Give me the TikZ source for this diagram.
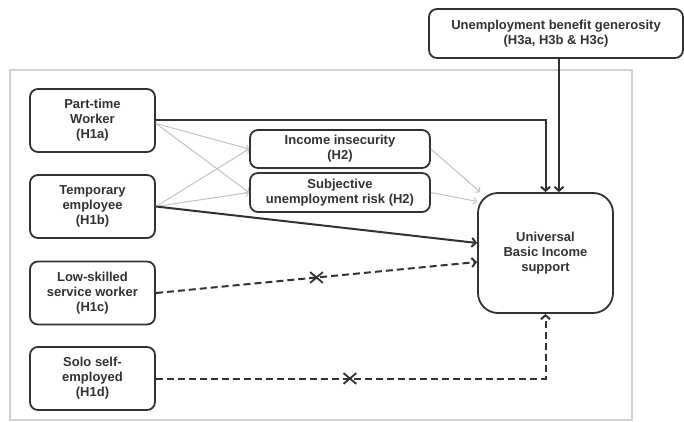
\documentclass[tikz,border=0pt]{standalone}
\usepackage{fontspec}
\setmainfont{Liberation Sans}
\usetikzlibrary{shapes.misc, arrows.meta}

\definecolor{inkgray}{RGB}{50,50,50}
\definecolor{softgray}{RGB}{195,195,195}
\definecolor{framegray}{RGB}{210,210,210}

\begin{document}
\begin{tikzpicture}[x=1pt, y=-1pt, >={Straight Barb[length=4pt, width=9pt]},
  font=\bfseries\fontsize{13}{15}\selectfont,
  box/.style={draw=inkgray, line width=1.8pt, rounded corners=8pt, align=center,
    text=inkgray, inner sep=0pt, minimum width=125pt, minimum height=63pt},
  midbox/.style={box, minimum width=180pt, minimum height=38pt},
  main/.style={->, draw=inkgray, line width=2pt},
  weak/.style={-{Straight Barb[length=3pt, width=7pt]}, draw=softgray, line width=1pt},
  null/.style={main, dash pattern=on 7pt off 4pt},
  nope/.style={cross out, solid, draw=inkgray, line width=1.8pt, minimum width=11pt,
    minimum height=9pt, inner sep=0pt}]

\useasboundingbox (0,0) rectangle (684,422);

% the grey frame round the model
\draw[draw=framegray, line width=1.8pt] (10,70) rectangle (632,420);

% the four worker groups on the left
\node (pt)   at (92.5,120.5) [box] {Part-time\\Worker\\(H1a)};
\node (tmp)  at (92.5,206.5) [box] {Temporary\\employee\\(H1b)};
\node (low)  at (92.5,293)   [box] {Low-skilled\\service worker\\(H1c)};
\node (solo) at (92.5,378.5) [box] {Solo self-\\employed\\(H1d)};

% the two mediators
\node (inc) at (340,149)   [midbox] {Income insecurity\\(H2)};
\node (sub) at (340,192.5) [midbox, minimum height=39pt] {Subjective\\unemployment risk (H2)};

% outcome and moderator
\node (ubi) at (545.5,253) [box, rounded corners=20pt, minimum width=135pt, minimum height=120pt]
  {Universal\\Basic Income\\support};
\node (ben) at (556,33.5) [box, minimum width=254pt, minimum height=49pt]
  {Unemployment benefit generosity\\(H3a, H3b \& H3c)};

% grey paths through the mediators
\draw[weak] ([yshift=-3pt]pt.east) -- (inc.west);
\draw[weak] ([yshift=-3pt]pt.east) -- (sub.west);
\draw[weak] (tmp.east) -- (inc.west);
\draw[weak] (tmp.east) -- (sub.west);
\draw[weak] (inc.east) -- (ubi.137);
\draw[weak] (sub.east) -- (ubi.143.5);

% direct effects
\draw[main] (pt.east) -| (ubi.north);
\draw[main] ([xshift=3pt]ben.south) -- ([xshift=3pt]ben.south |- ubi.north);
\draw[main] (tmp.east) -- ([yshift=10pt]ubi.west);

% effects that do not hold
\draw[null] (low.east) -- ([yshift=-9pt]ubi.west) node[pos=0.5, nope] (lowx) {};
\draw[null] (solo.east) -| (ubi.south) node[pos=0.249, nope] (solox) {};

\end{tikzpicture}
\end{document}
